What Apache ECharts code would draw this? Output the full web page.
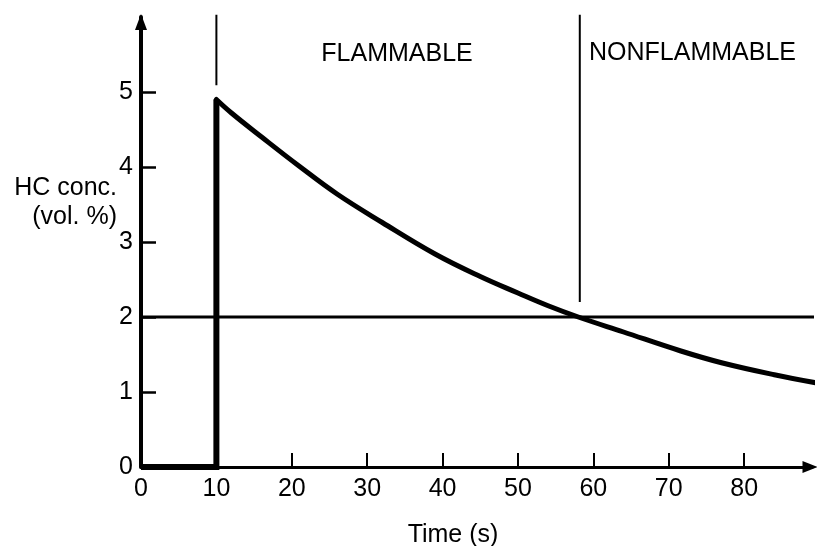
<!DOCTYPE html>
<html>
<head>
<meta charset="utf-8">
<script src="https://cdn.jsdelivr.net/npm/echarts@6/dist/echarts.min.js"></script>
<style>
  html, body { margin: 0; padding: 0; background: #fff; }
  #chart { width: 817px; height: 546px; }
</style>
</head>
<body>
<div id="chart"></div>
<script>
// ---- data ----
const xTickValues = [0, 10, 20, 30, 40, 50, 60, 70, 80];
const yTickValues = [0, 1, 2, 3, 4, 5];

// initial step: zero concentration until injection at t = 10 s
const stepTime = [0, 10, 10];
const stepConc = [0, 0, 4.9];

// decay of HC concentration after injection
const decayTime = [10, 12, 16, 21, 26, 32, 39, 45, 50, 54, 58, 64, 71.5, 77, 84, 89.7];
const decayConc = [4.9, 4.72, 4.4, 4.01, 3.64, 3.26, 2.84, 2.54, 2.32, 2.15, 2.0, 1.8, 1.55, 1.39, 1.23, 1.12];

// flammability threshold
const thresholdTime = [0, 89.7];
const thresholdConc = [2, 2];

// region boundary markers (time, bottom conc, top conc)
const markerTime = [10, 58.2];
const markerBottom = [5.09, 2.2];
const markerTop = [6.03, 6.03];

const FONT = '"Liberation Sans", Arial, Helvetica, sans-serif';
const zip = (a, b) => a.map((v, i) => [v, b[i]]);

const chart = echarts.init(document.getElementById('chart'), null, { renderer: 'canvas' });

const markerSeries = markerTime.map((t, i) => ({
  type: 'line',
  data: [[t, markerBottom[i]], [t, markerTop[i]]],
  symbol: 'none',
  clip: false,
  silent: true,
  lineStyle: { color: '#000', width: 2 },
  z: 3
}));

chart.setOption({
  animation: false,
  backgroundColor: '#fff',
  grid: { left: 141, right: 5, top: 17, bottom: 79, containLabel: false },
  xAxis: {
    type: 'value',
    min: 0,
    max: 89,
    interval: 10,
    splitLine: { show: false },
    axisLine: {
      show: true,
      lineStyle: { color: '#000', width: 3 },
      symbol: ['none', 'triangle'],
      symbolSize: [12, 15],
      symbolOffset: [0, -2]
    },
    axisTick: {
      show: true,
      inside: true,
      length: 14,
      lineStyle: { color: '#000', width: 2 },
      customValues: [10, 20, 30, 40, 50, 60, 70, 80]
    },
    axisLabel: {
      show: true,
      color: '#000',
      fontSize: 25,
      fontFamily: FONT,
      margin: 10,
      customValues: xTickValues
    }
  },
  yAxis: {
    type: 'value',
    min: 0,
    max: 6,
    interval: 1,
    splitLine: { show: false },
    axisLine: {
      show: true,
      lineStyle: { color: '#000', width: 4 },
      symbol: ['none', 'triangle'],
      symbolSize: [12, 16],
      symbolOffset: [0, -5]
    },
    axisTick: {
      show: true,
      inside: true,
      length: 15,
      lineStyle: { color: '#000', width: 2.5 },
      customValues: [1, 2, 3, 4, 5]
    },
    axisLabel: {
      show: true,
      color: '#000',
      fontSize: 25,
      fontFamily: FONT,
      margin: 8,
      customValues: yTickValues
    }
  },
  series: [
    {
      type: 'line',
      data: zip(thresholdTime, thresholdConc),
      symbol: 'none',
      clip: false,
      silent: true,
      lineStyle: { color: '#000', width: 3 },
      z: 2
    },
    ...markerSeries,
    {
      type: 'line',
      data: zip(stepTime, stepConc),
      symbol: 'none',
      clip: false,
      silent: true,
      lineStyle: { color: '#000', width: 6, join: 'miter', cap: 'butt' },
      z: 5
    },
    {
      type: 'line',
      data: zip(decayTime, decayConc),
      symbol: 'none',
      smooth: 0.4,
      clip: false,
      silent: true,
      lineStyle: { color: '#000', width: 5, cap: 'round', join: 'round' },
      z: 5
    }
  ],
  graphic: [
    { type: 'text', x: 397, y: 54, style: { text: 'FLAMMABLE', fill: '#000', font: '25px ' + FONT, align: 'center', verticalAlign: 'middle' } },
    { type: 'text', x: 589, y: 53, style: { text: 'NONFLAMMABLE', fill: '#000', font: '25px ' + FONT, align: 'left', verticalAlign: 'middle' } },
    { type: 'text', x: 117, y: 188, style: { text: 'HC conc.', fill: '#000', font: '25px ' + FONT, align: 'right', verticalAlign: 'middle' } },
    { type: 'text', x: 117, y: 217, style: { text: '(vol. %)', fill: '#000', font: '25px ' + FONT, align: 'right', verticalAlign: 'middle' } },
    { type: 'text', x: 453, y: 535, style: { text: 'Time (s)', fill: '#000', font: '25px ' + FONT, align: 'center', verticalAlign: 'middle' } }
  ]
});
</script>
</body>
</html>
